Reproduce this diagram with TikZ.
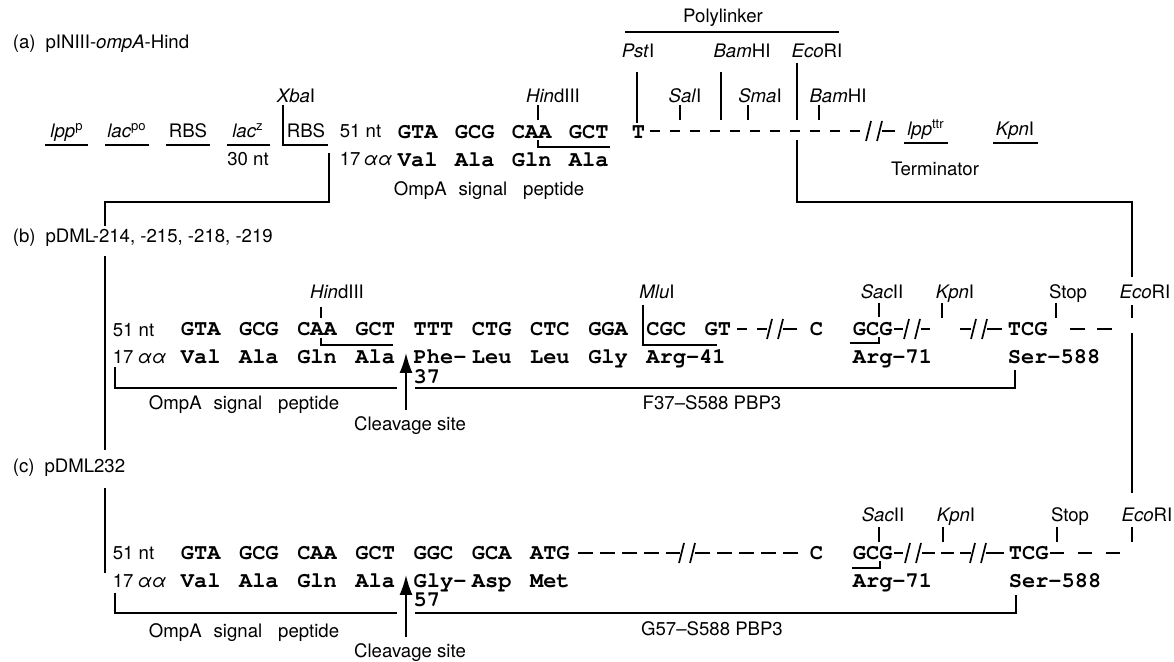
\documentclass[tikz,border=0pt]{standalone}
\usepackage{fontspec}
\setmainfont{TeX Gyre Heros}
\newfontfamily\codefont{TeX Gyre Cursor}
\usetikzlibrary{arrows.meta,positioning}

% two slashes of a break in the sequence line
\newcommand\brk[2]{\draw (#1-8,#2+10) -- (#1-3,#2-10); \draw (#1+3,#2+10) -- (#1+8,#2-10);}

\begin{document}
\begin{tikzpicture}[x=0.5pt,y=-0.5pt,>={Latex[length=10pt,width=6.5pt]},font=\fontsize{9.3}{10}\selectfont,line width=0.85pt]
\tikzstyle{lbl}=[inner sep=0pt, anchor=base]
\tikzstyle{lbll}=[inner sep=0pt, anchor=base west]
\tikzstyle{cod}=[inner sep=0pt, anchor=base west, font=\fontsize{11}{12}\selectfont\codefont\bfseries]
\tikzstyle{dsha}=[dash pattern=on 5pt off 5pt]
\tikzstyle{dshc}=[dash pattern=on 7.5pt off 3.5pt]
\useasboundingbox (0,0) rectangle (1174,662);

% (a) pINIII-ompA-Hind
\node[lbll] (ta) at (12,49) {(a)\hspace{5pt}pINIII-\textit{ompA}-Hind};
\node[lbl] (poly) at (723,23) {Polylinker};
\node[lbl] (pst) at (638,58) {\textit{Pst}I};
\node[lbl] (bam1) at (742,58) {\textit{Bam}HI};
\node[lbl] (eco1) at (817,58) {\textit{Eco}RI};
\node[lbl] (xba) at (296,103) {\textit{Xba}I};
\node[lbl] (hind1) at (553,103) {\textit{Hin}dIII};
\node[lbl] (sal) at (685,103) {\textit{Sal}I};
\node[lbl] (sma) at (760,103) {\textit{Sma}I};
\node[lbl] (bam2) at (838,103) {\textit{Bam}HI};
\node[lbl] (lppp) at (67,138) {\textit{lpp}\textsuperscript{p}};
\node[lbl] (lacpo) at (127,138) {\textit{lac}\textsuperscript{po}};
\node[lbl] (rbs1) at (188,138) {RBS};
\node[lbl] (lacz) at (248,138) {\textit{lac}\textsuperscript{z}};
\node[lbl] (rbs2) at (306,138) {RBS};
\node[lbl] (nt30) at (248,166) {30 nt};
\node[lbll] (nta) at (339,138) {51 nt};
\node[lbll] (aaa) at (339,166) {17\hspace{1.5pt}\textit{αα}};
\node[cod] (a1) at (397,139) {GTA};
\node[cod] (a2) at (454,139) {GCG};
\node[cod] (a3) at (511,139) {CAA};
\node[cod] (a4) at (568,139) {GCT};
\node[cod] (a5) at (631,139) {T};
\node[cod] (va1) at (397,167) {Val};
\node[cod] (va2) at (454,167) {Ala};
\node[cod] (va3) at (511,167) {Gln};
\node[cod] (va4) at (568,167) {Ala};
\node[lbll] (sig1) at (393,196) {OmpA\hspace{6pt}signal\hspace{8pt}peptide};
\node[lbl] (lppt) at (926,136) {\textit{lpp}\textsuperscript{ttr}};
\node[lbl] (kpn1) at (1015,136) {\textit{Kpn}I};
\node[lbl] (term) at (935,176) {Terminator};

\draw (625,32) -- (839,32);
\draw (45,145) -- (88,145);
\draw (105,145) -- (149,145);
\draw (166,145) -- (210,145);
\draw (227,145) -- (270,145);
\draw (904,143) -- (948,143);
\draw (993,143) -- (1038,143);
\draw (283,105) -- (283,145) -- (328,145);
\draw (538,105) -- (538,120);
\draw (538,140) -- (538,147) -- (610,147);
\draw (637,72) -- (637,123);
\draw (680,105) -- (680,120);
\draw (721,72) -- (721,120);
\draw (748,105) -- (748,120);
\draw (819,105) -- (819,120);
\draw[dsha] (650,131) -- (860,131);
\brk{874}{131}
\draw (882,131) -- (895,131);

% links between the constructs
\coordinate (xbot) at (329,153);
\coordinate (ebot) at (797,140);
\draw (xbot) -- (329,202) -- (105,202) -- (105,226);
\draw (105,256) -- (105,450);
\draw (105,488) -- (105,573);
\draw (797,63) -- (797,120);
\draw (ebot) -- (797,202) -- (1132,202) -- (1132,277);
\draw (1132,305) -- (1132,318);
\draw (1132,333) -- (1132,493);
\draw (1132,527) -- (1132,542);

% (b) pDML-214, -215, -218, -219
\node[lbll] (tb) at (12,243) {(b)\hspace{5pt}pDML-214, -215, -218, -219};
\node[lbl] (hind2) at (337,299) {\textit{Hin}dIII};
\node[lbl] (mlu) at (657,299) {\textit{Mlu}I};
\node[lbl] (sac1) at (882,299) {\textit{Sac}II};
\node[lbl] (kpn2) at (955,299) {\textit{Kpn}I};
\node[lbl] (stop1) at (1068,299) {Stop};
\node[lbl] (eco2) at (1145,299) {\textit{Eco}RI};
\node[lbll] (ntb) at (112,337) {51 nt};
\node[lbll] (aab) at (112,364) {17\hspace{2pt}\textit{αα}};
\node[cod] (b1) at (180,336) {GTA};
\node[cod] (b2) at (238.2,336) {GCG};
\node[cod] (b3) at (296.4,336) {CAA};
\node[cod] (b4) at (354.6,336) {GCT};
\node[cod] (b5) at (412.8,336) {TTT};
\node[cod] (b6) at (471,336) {CTG};
\node[cod] (b7) at (529.2,336) {CTC};
\node[cod] (b8) at (587.4,336) {GGA};
\node[cod] (b9) at (645.6,336) {CGC};
\node[cod] (b10) at (703.8,336) {GT};
\node[cod] (b11) at (809,336) {C};
\node[cod] (b12) at (852,336) {GCG};
\node[cod] (b13) at (1007,336) {TCG};
\node[cod] (vb1) at (180,364) {Val};
\node[cod] (vb2) at (238.2,364) {Ala};
\node[cod] (vb3) at (296.4,364) {Gln};
\node[cod] (vb4) at (354.6,364) {Ala};
\node[cod] (vb5) at (412.8,364) {Phe-};
\node[cod] (vb6) at (471,364) {Leu};
\node[cod] (vb7) at (529.2,364) {Leu};
\node[cod] (vb8) at (587.4,364) {Gly};
\node[cod] (vb9) at (645.6,364) {Arg-41};
\node[cod] (vb12) at (852,364) {Arg-71};
\node[cod] (vb13) at (1007,364) {Ser-588};
\node[cod] (n37) at (412.8,384) {37};
\node[lbll] (sig2) at (148,410) {OmpA\hspace{6pt}signal\hspace{8pt}peptide};
\node[lbl] (pbpb) at (712,410) {F37–S588 PBP3};
\node[lbl] (clvb) at (410,431) {Cleavage site};
\coordinate (tipb) at (406,353);

\draw (321,307) -- (321,318);
\draw (321,338) -- (321,345) -- (393,345);
\draw (643,305) -- (643,345) -- (717,345);
\draw[dsha] (737,329) -- (767,329);
\brk{775}{329}
\draw (783,329) -- (797,329);
\draw (879,303) -- (879,317);
\draw (879,337) -- (879,343) -- (850,343);
\draw (894,329) -- (903,329);
\brk{912}{329}
\draw (921,329) -- (930,329);
\draw (942,303) -- (942,318);
\draw (960,329) -- (971,329);
\brk{979}{329}
\draw (987,329) -- (1002,329);
\draw (1056,303) -- (1056,318);
\draw[dash pattern=on 7.5pt off 6pt] (1070,329) -- (1112,329);
\draw (115,367) -- (115,388) -- (397,388);
\draw (415,388) -- (1015,388) -- (1015,370);
\draw[->] ([yshift=3pt]clvb.north -| tipb) -- (tipb);

% (c) pDML232
\node[lbll] (tc) at (12,473) {(c)\hspace{5pt}pDML232};
\node[lbl] (sac2) at (883,522) {\textit{Sac}II};
\node[lbl] (kpn3) at (956,522) {\textit{Kpn}I};
\node[lbl] (stop2) at (1070,522) {Stop};
\node[lbl] (eco3) at (1147,522) {\textit{Eco}RI};
\node[lbll] (ntc) at (112,560) {51 nt};
\node[lbll] (aac) at (112,588) {17\hspace{2pt}\textit{αα}};
\node[cod] (c1) at (180,560) {GTA};
\node[cod] (c2) at (238.2,560) {GCG};
\node[cod] (c3) at (296.4,560) {CAA};
\node[cod] (c4) at (354.6,560) {GCT};
\node[cod] (c5) at (412.8,560) {GGC};
\node[cod] (c6) at (471,560) {GCA};
\node[cod] (c7) at (529.2,560) {ATG};
\node[cod] (c8) at (809,560) {C};
\node[cod] (c9) at (852,560) {GCG};
\node[cod] (c10) at (1008,560) {TCG};
\node[cod] (vc1) at (180,588) {Val};
\node[cod] (vc2) at (238.2,588) {Ala};
\node[cod] (vc3) at (296.4,588) {Gln};
\node[cod] (vc4) at (354.6,588) {Ala};
\node[cod] (vc5) at (412.8,588) {Gly-};
\node[cod] (vc6) at (471,588) {Asp};
\node[cod] (vc7) at (529.2,588) {Met};
\node[cod] (vc9) at (852,588) {Arg-71};
\node[cod] (vc10) at (1008,588) {Ser-588};
\node[cod] (n57) at (412.8,607) {57};
\node[lbll] (sig3) at (148,638) {OmpA\hspace{6pt}signal\hspace{8pt}peptide};
\node[lbl] (pbpc) at (712,636) {G57–S588 PBP3};
\node[lbl] (clvc) at (410,658) {Cleavage site};
\coordinate (tipc) at (406,575);

\draw[dshc] (578,553) -- (680,553);
\brk{687}{553}
\draw[dshc] (695,553) -- (802,553);
\draw (879,527) -- (879,542);
\draw (880,561) -- (880,568) -- (852,568);
\draw (894,553) -- (903,553);
\brk{913}{553}
\draw[dash pattern=on 6.5pt off 3pt] (922,553) -- (971,553);
\draw (943,527) -- (943,542);
\brk{978}{553}
\draw (986,553) -- (1004,553);
\draw (1057,527) -- (1057,542);
\draw[dash pattern=on 7pt off 7pt] (1050,553) -- (1125,553);
\draw (115,593) -- (115,613) -- (397,613);
\draw (415,613) -- (1016,613) -- (1016,595);
\draw[->] ([yshift=3pt]clvc.north -| tipc) -- (tipc);
\end{tikzpicture}
\end{document}
